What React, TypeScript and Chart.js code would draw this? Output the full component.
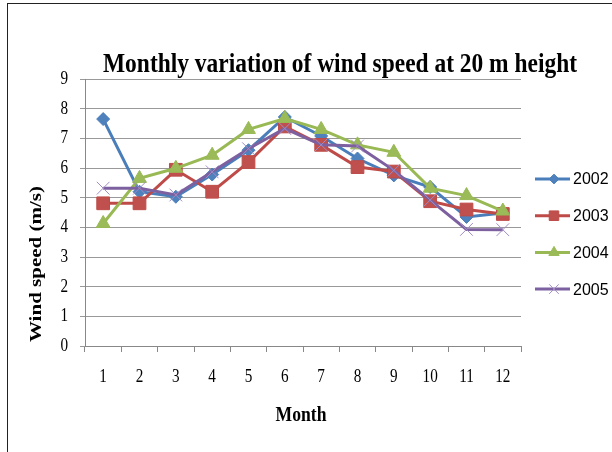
import { useEffect, useRef } from 'react';
import { Chart, registerables } from 'chart.js';
import { drawPoint } from 'chart.js/helpers';

Chart.register(...registerables);

const months = ['1', '2', '3', '4', '5', '6', '7', '8', '9', '10', '11', '12'];
const speed2002 = [7.65, 5.2, 5.03, 5.78, 6.6, 7.72, 7.08, 6.32, 5.75, 5.36, 4.35, 4.48];
const speed2003 = [4.81, 4.81, 5.94, 5.2, 6.2, 7.4, 6.78, 6.03, 5.88, 4.88, 4.6, 4.45];
const speed2004 = [4.13, 5.65, 5.99, 6.43, 7.3, 7.67, 7.3, 6.78, 6.53, 5.32, 5.07, 4.55];
const speed2005 = [5.32, 5.32, 5.09, 5.87, 6.65, 7.33, 6.78, 6.74, 5.92, 4.92, 3.93, 3.92];
const seriesNames = ['2002', '2003', '2004', '2005'];
const yRange = [0, 9];

const titleText = 'Monthly variation of wind speed at 20 m height';
const xTitleText = 'Month';
const yTitleText = 'Wind speed (m/s)';

const SQUISH = 0.8;

function squishText(ctx: CanvasRenderingContext2D, text: string, x: number, y: number, align: CanvasTextAlign, font: string, rot = 0) {
  ctx.save();
  ctx.font = font;
  ctx.fillStyle = '#000';
  ctx.textAlign = align;
  ctx.textBaseline = 'middle';
  ctx.translate(x, y);
  if (rot) {
    ctx.rotate(rot);
    ctx.scale(1, SQUISH);
  } else {
    ctx.scale(SQUISH, 1);
  }
  ctx.fillText(text, 0, 0);
  ctx.restore();
}

export default function App() {
  const ref = useRef<HTMLCanvasElement>(null);

  useEffect(() => {
    const customDraw = {
      id: 'customDraw',
      afterDraw(chart: any) {
        const ctx = chart.ctx as CanvasRenderingContext2D;
        // Title
        ctx.save();
        ctx.font = 'bold 28px "Liberation Serif"';
        ctx.fillStyle = '#000';
        ctx.textBaseline = 'alphabetic';
        ctx.textAlign = 'center';
        const w = ctx.measureText(titleText).width;
        const sx = 474 / w;
        ctx.translate(340, 72);
        ctx.scale(sx, 1);
        ctx.fillText(titleText, 0, 0);
        ctx.restore();

        // Tick labels from the scales
        const xs = chart.scales.x;
        xs.ticks.forEach((t: any, i: number) => {
          squishText(ctx, String(xs.getLabelForValue(t.value)), xs.getPixelForTick(i), 377, 'center', '19px "Liberation Serif"');
        });
        const ys = chart.scales.y;
        ys.ticks.forEach((t: any, i: number) => {
          squishText(ctx, String(t.value), 68, ys.getPixelForTick(i), 'right', '19px "Liberation Serif"');
        });

        // Axis titles
        squishText(ctx, xTitleText, 301, 415, 'center', 'bold 22px "Liberation Serif"');
        squishText(ctx, yTitleText, 37, 342, 'left', 'bold 21px "Liberation Serif"', -Math.PI / 2);

        // Legend
        ctx.save();
        chart.data.datasets.forEach((ds: any, i: number) => {
          const y = 179 + i * 36.7;
          ctx.strokeStyle = ds.borderColor;
          ctx.lineWidth = 3;
          ctx.beginPath();
          ctx.moveTo(535, y);
          ctx.lineTo(570, y);
          ctx.stroke();
          ctx.fillStyle = ds.pointBackgroundColor;
          ctx.strokeStyle = ds.pointBorderColor;
          ctx.lineWidth = ds.pointBorderWidth;
          drawPoint(ctx, { pointStyle: ds.pointStyle, radius: ds.pointRadius * 0.75, borderWidth: ds.pointBorderWidth, rotation: 0 } as any, 554, y);
          ctx.fillStyle = '#000';
          ctx.font = '16px "Liberation Sans"';
          ctx.textAlign = 'left';
          ctx.textBaseline = 'middle';
          ctx.fillText(ds.label, 573, y + 1);
        });
        ctx.restore();
      },
    };

    const mk = (label: string, data: number[], line: string, fill: string, style: string, r: number, order: number) => ({
      label,
      data,
      borderColor: line,
      backgroundColor: fill,
      borderWidth: 3,
      pointStyle: style,
      pointRadius: r,
      pointBackgroundColor: fill,
      pointBorderColor: style === 'crossRot' ? fill : line,
      pointBorderWidth: 1,
      tension: 0,
      order,
    });

    const chart = new Chart(ref.current!, {
      type: 'line',
      data: {
        labels: months,
        datasets: [
          mk(seriesNames[0], speed2002, '#4A7EBB', '#4F81BD', 'rectRot', 6.5, 4),
          mk(seriesNames[1], speed2003, '#BE4B48', '#C0504D', 'rect', 9, 3),
          mk(seriesNames[2], speed2004, '#98B954', '#9BBB59', 'triangle', 8, 2),
          mk(seriesNames[3], speed2005, '#7D60A0', '#A08CC4', 'crossRot', 9, 1),
        ] as any,
      },
      options: {
        responsive: false,
        animation: false,
        layout: { padding: { left: 0, right: 91, top: 79, bottom: 0 } },
        plugins: {
          legend: { display: false },
          title: { display: false },
          tooltip: { enabled: false },
        },
        scales: {
          x: {
            offset: true,
            grid: { offset: true, drawOnChartArea: false, drawTicks: true, tickLength: 6, color: '#888' },
            border: { color: '#888' },
            ticks: { display: false },
            afterFit: (s: any) => { s.height = 106; },
          },
          y: {
            min: yRange[0],
            max: yRange[1],
            ticks: { stepSize: 1, display: false },
            grid: { color: '#999', drawTicks: true, tickLength: 5 },
            border: { color: '#888' },
            afterFit: (s: any) => { s.width = 85; },
          },
        },
      } as any,
      plugins: [customDraw],
    });
    return () => chart.destroy();
  }, []);

  return (
    <div style={{ position: 'fixed', left: 0, top: 0, width: 612, height: 452, background: '#fff', overflow: 'hidden' }}>
      <div style={{ position: 'absolute', left: 7, top: 3, width: 700, height: 500, borderLeft: '1.5px solid #222', borderTop: '1.5px solid #222' }} />
      <canvas ref={ref} width={612} height={452} style={{ position: 'absolute', left: 0, top: 0, width: 612, height: 452 }} />
    </div>
  );
}
